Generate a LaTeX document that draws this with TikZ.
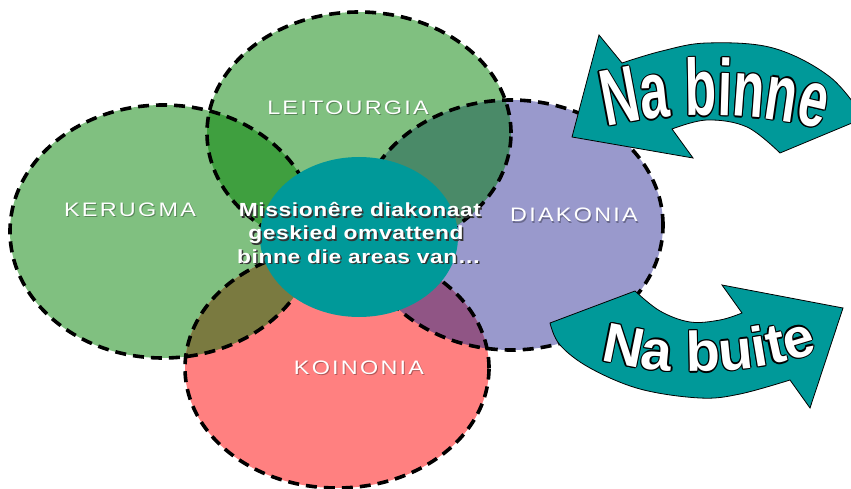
\documentclass[tikz,border=0pt]{standalone}
\usepackage{fontspec}
\setmainfont{Liberation Sans}
\newfontfamily\lblfont{Liberation Sans}[FakeStretch=1.2,LetterSpace=11.5]
\newfontfamily\cfont{Liberation Sans}[FakeStretch=1.2,LetterSpace=3]
\newfontfamily\binnefont{Liberation Sans}[FakeStretch=0.645]
\newfontfamily\buitefont{Liberation Sans}
\usetikzlibrary{decorations.text}
\definecolor{lgreen}{HTML}{80C080}
\definecolor{dpurple}{HTML}{9999CC}
\definecolor{kpink}{HTML}{FF8080}
\definecolor{tealc}{HTML}{009999}
\definecolor{klx}{HTML}{3F9F3F}
\definecolor{ldx}{HTML}{4A8A68}
\definecolor{kkx}{HTML}{7A7A40}
\definecolor{dkx}{HTML}{905585}
\newlength\olw
\setlength\olw{1.3pt}
\newcommand\olchar[1]{\leavevmode\rlap{\color{black}\relax
  \rlap{\kern\olw\relax #1}\rlap{\kern-\olw\relax #1}%
  \rlap{\raisebox{\olw}{#1}}\rlap{\raisebox{-\olw}{#1}}%
  \rlap{\kern.7\olw\raisebox{.7\olw}{#1}}\rlap{\kern-.7\olw\raisebox{.7\olw}{#1}}%
  \rlap{\kern.7\olw\raisebox{-.7\olw}{#1}}\rlap{\kern-.7\olw\raisebox{-.7\olw}{#1}}}%
  {\color{white}\relax #1}}
\def\ellK{(163,231.5) ellipse (153pt and 126.5pt)}
\def\ellL{(359,133) ellipse (152pt and 121pt)}
\def\ellD{(511,225) ellipse (152pt and 125pt)}
\def\ellO{(337,368) ellipse (152pt and 120pt)}
\def\ellC{(359,237) ellipse (99pt and 80pt)}
\begin{document}
\begin{tikzpicture}[x=1pt,y=-1pt,
  circ/.style={draw=black, line width=3.6pt, dash pattern=on 11pt off 7pt},
  lbl/.style={text=white, font=\lblfont\fontsize{19.5}{23}\selectfont, anchor=base, inner sep=0pt},
  lblsh/.style={text=black, opacity=0.3, font=\lblfont\fontsize{19.5}{23}\selectfont, anchor=base, inner sep=0pt},
  ctext/.style={text=white, font=\cfont\bfseries\fontsize{19}{23}\selectfont, anchor=base, inner sep=0pt},
  cshadow/.style={text=black!80, font=\cfont\bfseries\fontsize{19}{23}\selectfont, anchor=base, inner sep=0pt},
  arrowshape/.style={fill=tealc, draw=black, line width=0.8pt, line join=miter}]
\useasboundingbox (0,0) rectangle (851,489);
\clip (0,0) rectangle (851,489);
% base fills
\fill[lgreen] \ellK;
\fill[lgreen] \ellL;
\fill[dpurple] \ellD;
\fill[kpink] \ellO;
% overlaps
\begin{scope}\clip \ellK; \fill[klx] \ellL; \end{scope}
\begin{scope}\clip \ellL; \fill[ldx] \ellD; \end{scope}
\begin{scope}\clip \ellK; \fill[kkx] \ellO; \end{scope}
\begin{scope}\clip \ellD; \fill[dkx] \ellO; \end{scope}
% outlines
\draw[circ] \ellK;
\draw[circ] \ellL;
\draw[circ] \ellD;
\draw[circ] \ellO;
% centre
\fill[tealc] \ellC;
% labels
\node[lblsh] (kerugmash) at (131,218) {KERUGMA};
\node[lbl] (kerugma) at (130,217) {KERUGMA};
\node[lblsh] (leitsh) at (349,116) {LEITOURGIA};
\node[lbl] (leit) at (348,115) {LEITOURGIA};
\node[lblsh] (diaksh) at (575,223) {DIAKONIA};
\node[lbl] (diak) at (574,222) {DIAKONIA};
\node[lblsh] (koinsh) at (360,375) {KOINONIA};
\node[lbl] (koin) at (359,374) {KOINONIA};
% centre text
\node[cshadow] (s1) at (361.5,218.5) {Missionêre diakonaat};
\node[ctext] (m1) at (360,217) {Missionêre diakonaat};
\node[cshadow] (s2) at (357.5,241.5) {geskied omvattend};
\node[ctext] (m2) at (356,240) {geskied omvattend};
\node[cshadow] (s3) at (360.5,264.5) {binne die areas van…};
\node[ctext] (m3) at (359,263) {binne die areas van…};
% arrow "Na binne"
\draw[arrowshape] (572,137) -- (599,35) -- (622,63)
  -- plot[smooth, tension=0.6] coordinates {(622,63) (662,51) (707,43) (773,48) (830,77) (864,118)}
  -- (780,153)
  -- plot[smooth, tension=0.6] coordinates {(780,153) (747,127) (707,120) (672,129)}
  -- (693,158) -- cycle;
% arrow "Na buite"
\draw[arrowshape] (550,323) -- (635,291)
  -- plot[smooth, tension=0.6] coordinates {(635,291) (660,311) (690,322) (720,320) (742,313)}
  -- (722,285) -- (843,308) -- (810,408) -- (790,380)
  -- plot[smooth, tension=0.6] coordinates {(790,380) (740,394) (700,398) (640,389) (590,368) (560,345) (550,323)}
  -- cycle;
% arrow texts
\path[decorate, decoration={text effects along path, text={Na binne}, text align=center,
   text effects/.cd, text along path,
   characters={font=\binnefont\bfseries\fontsize{80}{80}\selectfont},
   character command=\olchar}]
   (592,131) .. controls (660,110) and (768,110) .. (836,134);
\path[decorate, decoration={text effects along path, text={Na buite}, text align=center,
   text effects/.cd, text along path,
   characters={font=\buitefont\bfseries\fontsize{56}{56}\selectfont},
   character command=\olchar}]
   (588,356) .. controls (652,378) and (757,378) .. (830,347);
\end{tikzpicture}
\end{document}
